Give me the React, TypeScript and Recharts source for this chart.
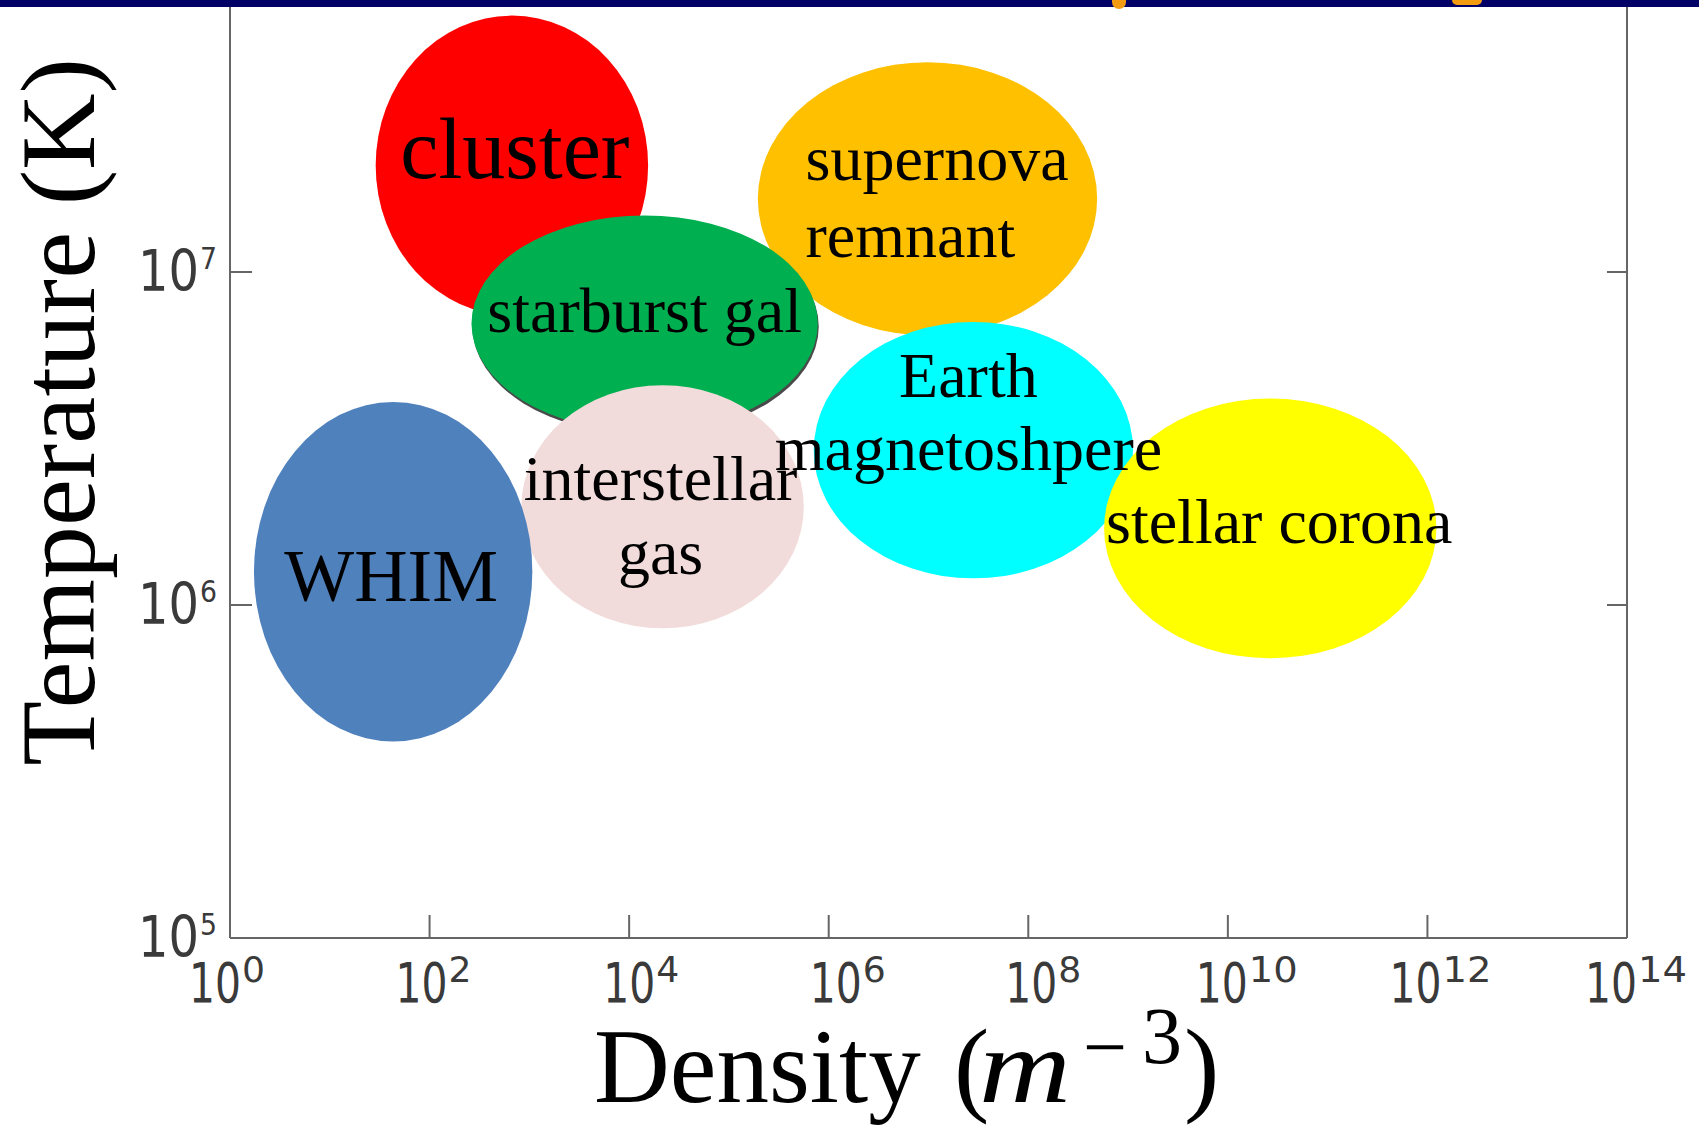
import React from 'react';
import { ComposedChart, XAxis, YAxis, ReferenceArea, Scatter, Label } from 'recharts';

// each region is an ellipse spanning [low, high] in log10 units on both axes
const regionNames = [
  'cluster',
  'supernova remnant',
  'starburst gal',
  'interstellar gas',
  'WHIM',
  'Earth magnetoshpere',
  'stellar corona',
];
const labelLines = [
  ['cluster'],
  ['supernova', 'remnant'],
  ['starburst gal'],
  ['interstellar', 'gas'],
  ['WHIM'],
  ['Earth', 'magnetoshpere'],
  ['stellar corona'],
];
// log10 density (m^-3)
const densityLowExp = [1.46, 5.29, 2.42, 2.92, 0.24, 5.85, 8.76];
const densityHighExp = [4.19, 8.69, 5.89, 5.75, 3.03, 9.05, 12.09];
// log10 temperature (K)
const tempLowExp = [6.87, 6.81, 6.52, 5.93, 5.59, 6.08, 5.84];
const tempHighExp = [7.77, 7.63, 7.17, 6.66, 6.61, 6.85, 6.62];

const xTicks = [1, 1e2, 1e4, 1e6, 1e8, 1e10, 1e12, 1e14];
const yTicks = [1e5, 1e6, 1e7];
const xDomain = [1, 1e14];
const yDomain = [1e5, 6.56e7];

// styling
const regionColors = ['#FF0000', '#FFC000', '#00B050', '#F2DCDB', '#4F81BD', '#00FFFF', '#FFFF00'];
const shadowed = [false, false, true, false, false, false, false];
const labelFont = [86, 64, 64, 64, 74, 64, 64];
const labelDx = [3, -122, 0, -2, -2, -5, 9];
const labelDy = [13, -19, 8, -7, 29, -53, 15];
const labelGap = [0, 77, 0, 74, 0, 73, 0];
const labelAnchor = ['middle', 'start', 'middle', 'middle', 'middle', 'middle', 'middle'];
// the x tick labels sit a little off their ticks in the original
const xLabelShift = [-2, 5, 13, 20, 16, 20, 14, 10];

const SERIF = '"Liberation Serif", "Times New Roman", serif';
const SANS = '"DejaVu Sans", Verdana, sans-serif';
const AXIS = '#666666';
const TICK_TEXT = '#3a3a3a';

const pow10 = (v: number) => Math.pow(10, v);

const centers = regionNames.map((name, i) => ({
  name,
  x: pow10((densityLowExp[i] + densityHighExp[i]) / 2),
  y: pow10((tempLowExp[i] + tempHighExp[i]) / 2),
}));

const ellipseShape = (i: number) => (p: any) => {
  const cx = p.x + p.width / 2;
  const cy = p.y + p.height / 2;
  const rx = Math.abs(p.width) / 2;
  const ry = Math.abs(p.height) / 2;
  return (
    <g>
      {shadowed[i] && <ellipse cx={cx + 1} cy={cy + 3} rx={rx} ry={ry} fill="#4a4a4a" />}
      <ellipse cx={cx} cy={cy} rx={rx} ry={ry} fill={regionColors[i]} />
    </g>
  );
};

const labelShape = (i: number) => (p: any) => {
  const cx = p.x + p.width / 2 + labelDx[i];
  const cy = p.y + p.height / 2 + labelDy[i];
  return (
    <text x={cx} y={cy} textAnchor={labelAnchor[i] as any} fontFamily={SERIF} fontSize={labelFont[i]} fill="#000">
      {labelLines[i].map((line, k) => (
        <tspan key={k} x={cx} dy={k === 0 ? 0 : labelGap[i]}>
          {line}
        </tspan>
      ))}
    </text>
  );
};

const XTick = (props: any) => {
  const { x, y, payload, index } = props;
  const exp = String(Math.round(Math.log10(payload.value)));
  const inner = payload.value > xDomain[0] && payload.value < xDomain[1];
  const supW = 26 * exp.length;
  const total = 52 + supW;
  const left = x + (xLabelShift[index] ?? 0) - total / 2;
  return (
    <g>
      {inner && <line x1={x} x2={x} y1={y} y2={y - 23} stroke={AXIS} strokeWidth={2} />}
      <text fontFamily={SANS} fill={TICK_TEXT}>
        <tspan x={left} y={y + 64} fontSize={55} textLength={52} lengthAdjust="spacingAndGlyphs">
          10
        </tspan>
        <tspan x={left + 53} y={y + 44} fontSize={36} textLength={supW - 3} lengthAdjust="spacingAndGlyphs">
          {exp}
        </tspan>
      </text>
    </g>
  );
};

const YTick = (props: any) => {
  const { x, y, payload } = props;
  const exp = String(Math.round(Math.log10(payload.value)));
  const inner = payload.value > yDomain[0];
  return (
    <g>
      {inner && <line x1={x} x2={x + 22} y1={y} y2={y} stroke={AXIS} strokeWidth={2} />}
      <text fontFamily={SANS} fill={TICK_TEXT}>
        <tspan x={x - 92} y={y + 19} fontSize={57} textLength={61} lengthAdjust="spacingAndGlyphs">
          10
        </tspan>
        <tspan x={x - 30} y={y - 3} fontSize={30} textLength={17} lengthAdjust="spacingAndGlyphs">
          {exp}
        </tspan>
      </text>
    </g>
  );
};

const RightTick = (props: any) => {
  const { x, y, payload } = props;
  if (payload.value <= yDomain[0]) return <g />;
  return <line x1={x} x2={x - 20} y1={y} y2={y} stroke={AXIS} strokeWidth={2} />;
};

const XTitle = (props: any) => {
  const vb = props.viewBox || { x: 230, y: 938 };
  const x0 = vb.x;
  const base = vb.y + 164;
  return (
    <text fontFamily={SERIF} fill="#000">
      <tspan x={x0 + 364} y={base} fontSize={105}>
        Density
      </tspan>
      <tspan x={x0 + 724} y={base} fontSize={106}>
        (
      </tspan>
      <tspan x={x0 + 749} y={base} fontSize={106} fontStyle="italic" textLength={92} lengthAdjust="spacingAndGlyphs">
        m
      </tspan>
      <tspan x={x0 + 853} y={base - 28} fontSize={80} textLength={44} lengthAdjust="spacingAndGlyphs">
        −
      </tspan>
      <tspan x={x0 + 912} y={base - 39} fontSize={80}>
        3
      </tspan>
      <tspan x={x0 + 954} y={base} fontSize={106}>
        )
      </tspan>
    </text>
  );
};

const YTitle = () => {
  const x0 = 94;
  const y0 = 412;
  return (
    <text
      x={x0}
      y={y0}
      transform={`rotate(-90, ${x0}, ${y0})`}
      textAnchor="middle"
      fontFamily={SERIF}
      fontSize={106}
      fill="#000"
    >
      Temperature (K)
    </text>
  );
};

export default function App() {
  return (
    <div style={{ position: 'absolute', top: 0, left: 0, width: 1699, height: 1129, background: '#fff' }}>
      <ComposedChart width={1699} height={1129} data={centers} margin={{ top: 0, right: 0, bottom: 0, left: 0 }}>
        <XAxis
          dataKey="x"
          type="number"
          scale="log"
          domain={xDomain}
          allowDataOverflow
          ticks={xTicks}
          interval={0}
          height={191}
          tickSize={0}
          tickMargin={0}
          tickLine={false}
          tick={<XTick />}
          axisLine={{ stroke: AXIS, strokeWidth: 2 }}
        >
          <Label content={<XTitle />} />
        </XAxis>
        <YAxis
          yAxisId="left"
          dataKey="y"
          type="number"
          scale="log"
          domain={yDomain}
          allowDataOverflow
          ticks={yTicks}
          interval={0}
          width={230}
          tickSize={0}
          tickMargin={0}
          tickLine={false}
          tick={<YTick />}
          axisLine={{ stroke: AXIS, strokeWidth: 2 }}
        >
          <Label content={<YTitle />} />
        </YAxis>
        <YAxis
          yAxisId="right"
          orientation="right"
          type="number"
          scale="log"
          domain={yDomain}
          allowDataOverflow
          ticks={yTicks}
          interval={0}
          width={72}
          tickSize={0}
          tickMargin={0}
          tickLine={false}
          tick={<RightTick />}
          axisLine={{ stroke: AXIS, strokeWidth: 2 }}
        />
        <Scatter yAxisId="left" dataKey="y" isAnimationActive={false} shape={() => <g />} />
        {regionNames.map((name, i) => (
          <ReferenceArea
            key={'e' + name}
            yAxisId="left"
            x1={pow10(densityLowExp[i])}
            x2={pow10(densityHighExp[i])}
            y1={pow10(tempLowExp[i])}
            y2={pow10(tempHighExp[i])}
            ifOverflow="visible"
            fill={regionColors[i]}
            fillOpacity={1}
            shape={ellipseShape(i)}
          />
        ))}
        {regionNames.map((name, i) => (
          <ReferenceArea
            key={'t' + name}
            yAxisId="left"
            x1={pow10(densityLowExp[i])}
            x2={pow10(densityHighExp[i])}
            y1={pow10(tempLowExp[i])}
            y2={pow10(tempHighExp[i])}
            ifOverflow="visible"
            fill="none"
            shape={labelShape(i)}
          />
        ))}
      </ComposedChart>
      <div style={{ position: 'absolute', top: 0, left: 0, width: 1699, height: 7, background: '#000066' }} />
      <div style={{ position: 'absolute', top: 0, left: 1112, width: 14, height: 9, background: '#F39C12', borderRadius: '0 0 7px 7px' }} />
      <div style={{ position: 'absolute', top: 0, left: 1452, width: 30, height: 5, background: '#F39C12', borderRadius: '0 0 15px 15px' }} />
    </div>
  );
}
